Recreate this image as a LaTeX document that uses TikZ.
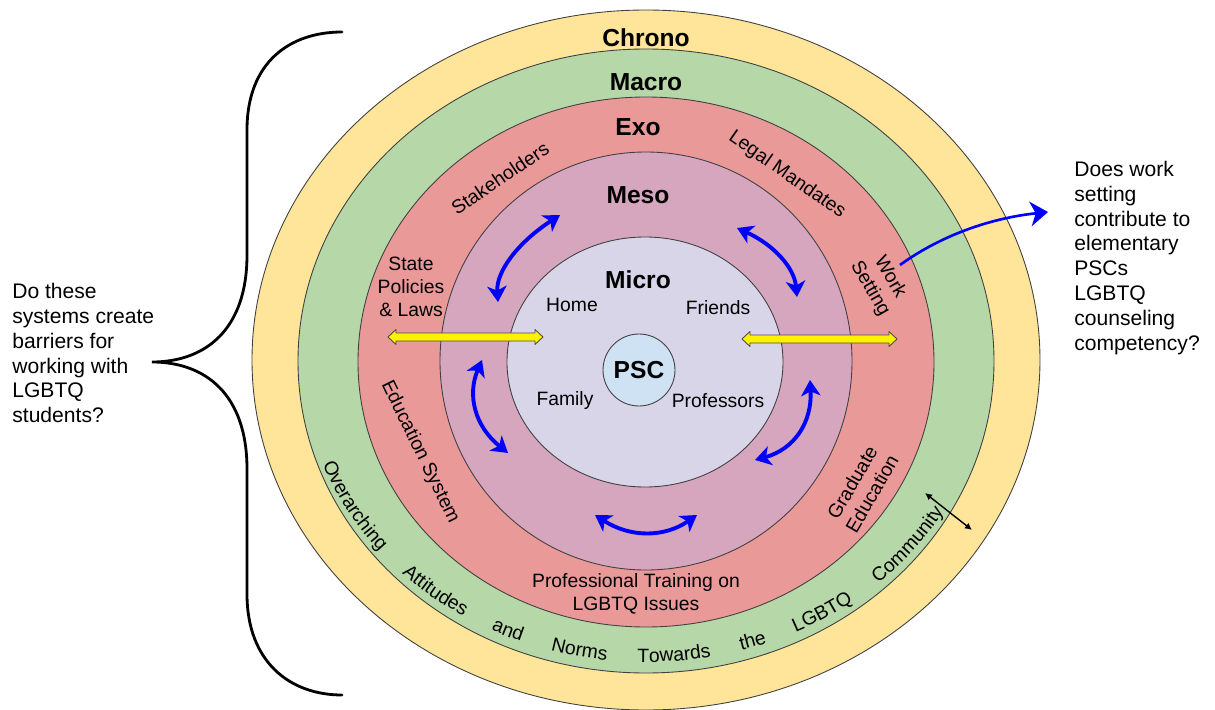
\documentclass[tikz,border=0pt]{standalone}
\usepackage{fontspec}
\setmainfont{Liberation Sans}
\usetikzlibrary{arrows.meta,decorations.text,positioning}
\definecolor{chronoY}{HTML}{FFE599}
\definecolor{macroG}{HTML}{B6D7A8}
\definecolor{exoR}{HTML}{EA9999}
\definecolor{mesoM}{HTML}{D5A6BD}
\definecolor{microP}{HTML}{D9D5E9}
\definecolor{pscB}{HTML}{CFE2F3}
\tikzset{
  ring/.style={draw=black!75,line width=0.5pt},
  heading/.style={font=\fontsize{14}{16}\selectfont\bfseries},
  lbl/.style={font=\fontsize{11}{13}\selectfont,align=center,inner sep=1pt},
  question/.style={font=\fontsize{12}{14.2}\selectfont,align=left,inner sep=0pt},
  turnarr/.style={blue,line width=2.2pt,{Stealth[length=9pt,width=11pt,inset=2.5pt]}-{Stealth[length=9pt,width=11pt,inset=2.5pt]}},
  workarr/.style={blue,line width=1.5pt,-{Stealth[length=10pt,width=14pt,inset=3pt]}},
  gaparr/.style={black,line width=0.8pt,{Latex[length=4pt,width=4pt,fill=red!50!black]}-{Latex[length=4pt,width=4pt,fill=red!50!black]}},
  fatarr/.style={draw=black!70,fill=yellow,line width=0.5pt,line join=round},
  brace/.style={black,line width=1.6pt,line cap=round}
}
% fat two-headed arrow: left x, right x, y
\newcommand\fatarrow[3]{\draw[fatarr] (#1,#3) -- (#1+8,#3-7.5) -- (#1+8,#3-4) -- (#2-8,#3-4)
  -- (#2-8,#3-7.5) -- (#2,#3) -- (#2-8,#3+7.5) -- (#2-8,#3+4) -- (#1+8,#3+4) -- (#1+8,#3+7.5) -- cycle;}

\begin{document}
\begin{tikzpicture}[x=0.02cm,y=-0.02cm]
\useasboundingbox (0,0) rectangle (1215,710);
% rings, outside in
\draw[ring,fill=chronoY] (646,360) ellipse [x radius=394, y radius=350];
\draw[ring,fill=macroG] (646,361) ellipse [x radius=348, y radius=312];
\draw[ring,fill=exoR] (646,362) ellipse [x radius=288, y radius=265];
\draw[ring,fill=mesoM] (646,361) ellipse [x radius=206, y radius=209];
\draw[ring,fill=microP] (645,362) ellipse [x radius=138, y radius=125];
\node[ring,fill=pscB,circle,minimum size=1.44cm,inner sep=0pt,heading] (psc) at (639,370) {PSC};

% ring titles
\node[heading] (chrono) at (646,38) {Chrono};
\node[heading] (macro) at (646,82) {Macro};
\node[heading] (exo) at (638,127) {Exo};
\node[heading] (meso) at (638,195) {Meso};
\node[heading] (micro) at (638,280) {Micro};

% micro
\node[lbl] (home) at (572,305) {Home};
\node[lbl] (friends) at (718,308) {Friends};
\node[lbl] (family) at (565,401) {Family};
\node[lbl] (profs) at (718,401) {Professors};

% exo
\node[lbl,rotate=34] (stake) at (500,178) {Stakeholders};
\node[lbl,rotate=-35] (legal) at (787,175) {Legal Mandates};
\node[lbl,rotate=-60] (work) at (880,283) {Work\\Setting};
\node[lbl] (state) at (411,287) {State\\Policies\\\& Laws};
\node[lbl,rotate=-64] (edu) at (420,452) {Education System};
\node[lbl,rotate=60] (grad) at (862,488) {Graduate\\Education};
\node[lbl] (training) at (636,594) {Professional Training on\\LGBTQ Issues};

% macro, along the ring
\path[decorate,decoration={text along path,
  text={|\fontsize{11}{13}\selectfont|Overarching Attitudes and Norms Towards the LGBTQ Community},
  text align={fit to path stretching spaces}}]
  (322.7,464.0) arc[start angle=160, end angle=30, x radius=344, y radius=301];

% questions
\node[question,anchor=west] (barriers) at (12,353) {Do these\\systems create\\barriers for\\working with\\LGBTQ\\students?};
\node[question,anchor=west] (competency) at (1074,258) {Does work\\setting\\contribute to\\elementary\\PSCs\\LGBTQ\\counseling\\competency?};

% brace
\draw[brace] (342,32) .. controls (290,32) and (247,62) .. (247,130) -- (247,255)
  .. controls (247,330) and (205,362) .. (152,362)
  .. controls (205,362) and (247,394) .. (247,469) -- (247,594)
  .. controls (247,662) and (290,695) .. (342,695);

% yellow arrows
\fatarrow{388}{543}{337}
\fatarrow{742}{897}{339}

% blue arrows in meso
\coordinate (ulA) at (560,215); \coordinate (ulB) at (498,302);
\coordinate (urA) at (737,228); \coordinate (urB) at (797,297);
\coordinate (llA) at (482,360); \coordinate (llB) at (508,453);
\coordinate (lrA) at (810,380); \coordinate (lrB) at (755,460);
\coordinate (btA) at (595,515); \coordinate (btB) at (697,515);
\draw[turnarr] (ulA) .. controls (516.7,243.3) and (496,272.3) .. (ulB);
\draw[turnarr] (urA) .. controls (774.3,245) and (794.3,268) .. (urB);
\draw[turnarr] (llA) .. controls (466.7,395.7) and (475.3,426.7) .. (llB);
\draw[turnarr] (lrA) .. controls (812.3,422.7) and (794,449.3) .. (lrB);
\draw[turnarr] (btA) .. controls (630.3,537.7) and (664.3,537.7) .. (btB);

% work setting arrow
\coordinate (workout) at (900,265);
\coordinate (worktip) at (1048,212);
\draw[workarr] (workout) .. controls (940,236) and (989.3,218.3) .. (worktip);

% ring gap
\coordinate (gapA) at (925,493);
\coordinate (gapB) at (972,530);
\draw[gaparr] (gapA) -- (gapB);
\end{tikzpicture}
\end{document}
